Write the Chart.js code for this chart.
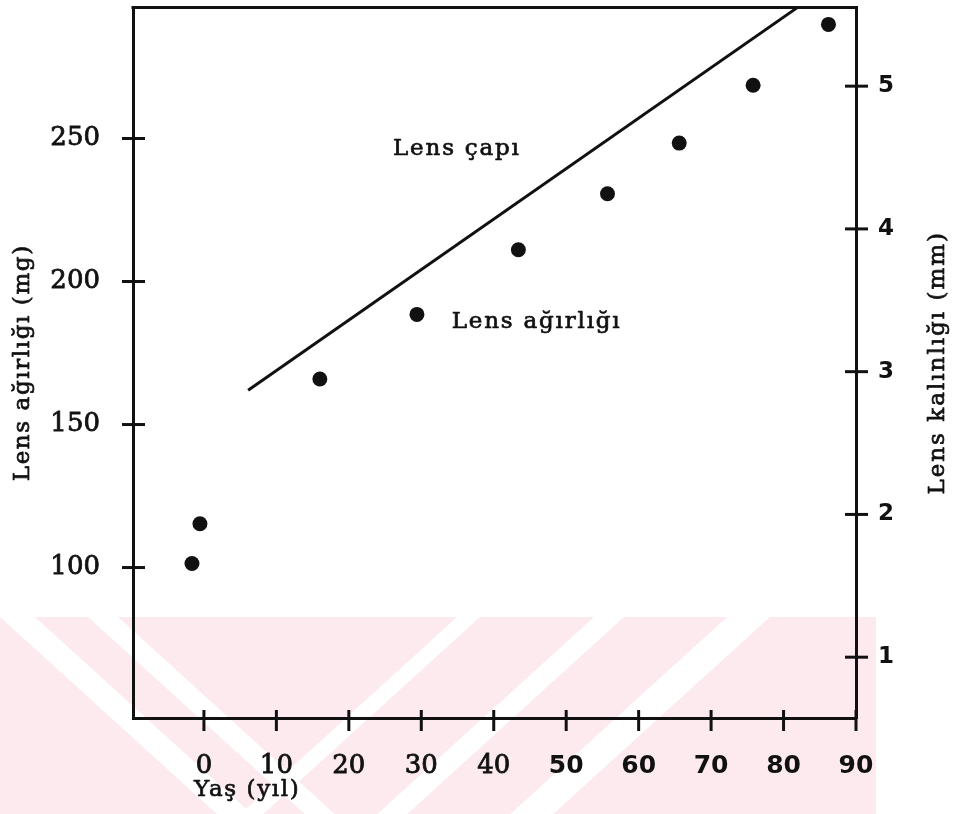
<!DOCTYPE html>
<html>
<head>
<meta charset="utf-8">
<script src="https://cdn.jsdelivr.net/npm/chart.js@4.4.1/dist/chart.umd.min.js"></script>
<style>
  html, body { margin: 0; padding: 0; background: #fff; }
  #wrap { width: 957px; height: 814px; position: relative; }
</style>
</head>
<body>
<div id="wrap"><canvas id="lensChart"></canvas></div>
<script>
// Lens weight (left axis) and lens line (right axis) against age

const ages = [-1.65, -0.55, 16.0, 29.4, 43.4, 55.7, 65.6, 75.8, 86.2];
const weights = [101.4, 115.3, 165.9, 188.5, 211.1, 230.7, 248.4, 268.6, 289.9];

const lineAges = [6.1, 81.9];
const lineThickness = [2.87, 5.55];

const xTicks = [0, 10, 20, 30, 40, 50, 60, 70, 80, 90];
const weightTicks = [100, 150, 200, 250];
const thicknessTicks = [1, 2, 3, 4, 5];

const xTitle = 'Yaş (yıl)';
const weightTitle = 'Lens ağırlığı (mg)';
const thicknessTitle = 'Lens kalınlığı (mm)';

// in-plot labels, anchored in data units (age, weight)
const noteTexts = ['Lens çapı', 'Lens ağırlığı'];
const noteAges = [26.1, 34.2];
const noteWeights = [244.3, 183.6];

const INK = '#111';
const SERIF = '"DejaVu Serif", serif';
const SANS = '"DejaVu Sans", sans-serif';

function fixedTicks(values) {
  return scale => { scale.ticks = values.map(v => ({ value: v })); };
}

// fix the axis box size and drop the label overhang padding
function boxSize(key, size) {
  return scale => {
    scale[key] = size;
    scale.paddingTop = 0;
    scale.paddingBottom = 0;
    scale.paddingLeft = 0;
    scale.paddingRight = 0;
  };
}

function poly(ctx, pts) {
  ctx.beginPath();
  ctx.moveTo(pts[0], pts[1]);
  for (let i = 2; i < pts.length; i += 2) ctx.lineTo(pts[i], pts[i + 1]);
  ctx.closePath();
  ctx.fill();
}

// faint pink stamp across the bottom of the page
function drawWatermark(ctx) {
  const top = 617, bottom = 814, h = bottom - top, k = 1.1;
  ctx.save();
  ctx.beginPath();
  ctx.rect(0, top, 876, h);
  ctx.clip();
  ctx.fillStyle = 'rgb(253,234,238)';
  ctx.fillRect(0, top, 876, h);
  ctx.fillStyle = '#fff';
  [[0, 35], [88, 118]].forEach(([a, b]) => {
    poly(ctx, [a, top, b, top, b + k * h, bottom, a + k * h, bottom]);
  });
  [[457, 480], [594, 624], [727, 770]].forEach(([a, b]) => {
    poly(ctx, [a, top, b, top, b - k * h, bottom, a - k * h, bottom]);
  });
  ctx.restore();
}

function seg(ctx, x1, y1, x2, y2) {
  ctx.beginPath();
  ctx.moveTo(x1, y1);
  ctx.lineTo(x2, y2);
  ctx.stroke();
}

function inkText(ctx, txt, x, y) {
  ctx.fillText(txt, x, y);
  ctx.strokeText(txt, x, y);
}

const decor = {
  id: 'decor',
  beforeDraw(chart) {
    drawWatermark(chart.ctx);
  },
  afterDraw(chart) {
    const ctx = chart.ctx;
    const area = chart.chartArea;
    const { x, y, y2 } = chart.scales;

    ctx.save();
    ctx.strokeStyle = INK;
    ctx.lineWidth = 3;
    ctx.lineCap = 'butt';
    // top of the frame
    seg(ctx, area.left - 1.5, area.top, area.right + 1.5, area.top);
    // tick marks crossing the axis lines
    x.ticks.forEach(t => {
      const px = x.getPixelForValue(t.value);
      seg(ctx, px, area.bottom - 8, px, area.bottom + 13);
    });
    y.ticks.forEach(t => {
      const py = y.getPixelForValue(t.value);
      seg(ctx, area.left - 11, py, area.left + 12, py);
    });
    y2.ticks.forEach(t => {
      const py = y2.getPixelForValue(t.value);
      seg(ctx, area.right - 11, py, area.right + 12, py);
    });

    // axis titles
    ctx.fillStyle = INK;
    ctx.lineWidth = 0.7;
    ctx.lineJoin = 'round';
    ctx.font = '23px ' + SERIF;
    ctx.letterSpacing = '1.6px';
    ctx.textBaseline = 'middle';
    ctx.textAlign = 'left';
    inkText(ctx, xTitle, 194, 790);

    ctx.textAlign = 'center';
    ctx.save();
    ctx.translate(23, (area.top + area.bottom) / 2);
    ctx.rotate(-Math.PI / 2);
    inkText(ctx, weightTitle, 0, 0);
    ctx.restore();

    ctx.letterSpacing = '2px';
    ctx.save();
    ctx.translate(938, (area.top + area.bottom) / 2);
    ctx.rotate(-Math.PI / 2);
    inkText(ctx, thicknessTitle, 0, 0);
    ctx.restore();

    // series labels inside the plot
    ctx.textAlign = 'left';
    ctx.textBaseline = 'alphabetic';
    ctx.letterSpacing = '1.8px';
    noteTexts.forEach((txt, i) => {
      inkText(ctx, txt, x.getPixelForValue(noteAges[i]), y.getPixelForValue(noteWeights[i]));
    });
    ctx.restore();
  }
};

new Chart(document.getElementById('lensChart'), {
  type: 'scatter',
  data: {
    datasets: [
      {
        label: noteTexts[1],
        data: ages.map((a, i) => ({ x: a, y: weights[i] })),
        yAxisID: 'y',
        backgroundColor: INK,
        borderWidth: 0,
        pointRadius: 7.5
      },
      {
        type: 'line',
        label: noteTexts[0],
        data: lineAges.map((a, i) => ({ x: a, y: lineThickness[i] })),
        yAxisID: 'y2',
        borderColor: INK,
        borderWidth: 3,
        pointRadius: 0,
        fill: false,
        tension: 0
      }
    ]
  },
  options: {
    responsive: true,
    maintainAspectRatio: false,
    animation: false,
    events: [],
    layout: { padding: { top: 5, left: 0, right: 0, bottom: 0 } },
    plugins: {
      legend: { display: false },
      tooltip: { enabled: false },
      title: { display: false }
    },
    scales: {
      x: {
        type: 'linear',
        position: 'bottom',
        min: -9.79,
        max: 90,
        afterBuildTicks: fixedTicks(xTicks),
        afterFit: boxSize('height', 96),
        grid: { display: false, drawTicks: false },
        border: { display: true, color: INK, width: 3 },
        ticks: {
          color: INK,
          padding: 33,
          maxRotation: 0,
          textStrokeColor: INK,
          textStrokeWidth: c => (c.tick && c.tick.value >= 50) ? 0 : 0.8,
          font: c => (c.tick && c.tick.value >= 50)
            ? { family: SANS, size: 25, weight: 'bold' }
            : { family: SERIF, size: 26 }
        },
        title: { display: false }
      },
      y: {
        type: 'linear',
        position: 'left',
        min: 47.4,
        max: 295.8,
        afterBuildTicks: fixedTicks(weightTicks),
        afterFit: boxSize('width', 133),
        grid: { display: false, drawTicks: false },
        border: { display: true, color: INK, width: 3 },
        ticks: {
          color: INK,
          padding: 33,
          textStrokeColor: INK,
          textStrokeWidth: 0.8,
          font: { family: SERIF, size: 26 }
        },
        title: { display: false }
      },
      y2: {
        type: 'linear',
        position: 'right',
        min: 0.574,
        max: 5.551,
        afterBuildTicks: fixedTicks(thicknessTicks),
        afterFit: boxSize('width', 101),
        grid: { display: false, drawTicks: false },
        border: { display: true, color: INK, width: 3 },
        ticks: { color: INK, padding: 22, font: { family: SANS, size: 23, weight: 'bold' } },
        title: { display: false }
      }
    }
  },
  plugins: [decor]
});
</script>
</body>
</html>
